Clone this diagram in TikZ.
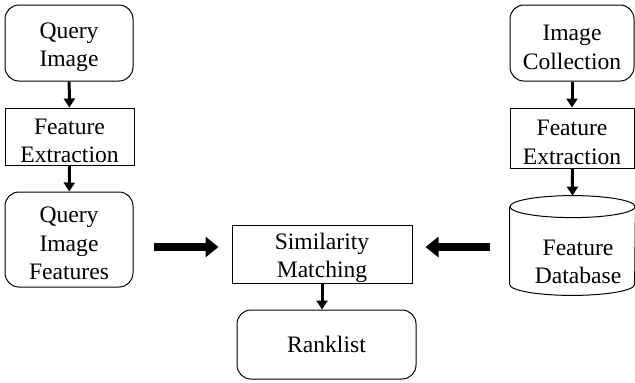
\documentclass[tikz,border=0pt]{standalone}
\usepackage{fontspec}
\setmainfont{Liberation Serif}
\usetikzlibrary{arrows.meta}

\def \thinArrow {1.5pt}
\def \fatArrow {3.6pt}
\def \capRadius {5.5pt}
\def \topStrut {\rule{0pt}{12pt}}

\tikzset{
  every node/.style={font=\fontsize{11.8pt}{14.3pt}\selectfont, align=center},
  roundbox/.style={draw, line width=0.5pt, rounded corners=7pt, inner sep=0pt},
  plainbox/.style={draw, line width=0.5pt, inner sep=0pt},
  flow/.style={line width=\thinArrow, -{Triangle[length=4.5pt, width=5.5pt]}},
  bigflow/.style={line width=\fatArrow, -{Triangle[length=6.5pt, width=10pt]}}
}

\begin{document}
\begin{tikzpicture}[x=0.5pt, y=-0.5pt]
         \useasboundingbox (0, 0) rectangle (635, 382);
         % query side
         \node[roundbox, minimum width=64pt, minimum height=38pt] (qimg) at (69, 43) {\topStrut Query\\Image};
         \node[plainbox, minimum width=64.5pt, minimum height=28.5pt] (qfe) at (69.5, 136.5) {\topStrut Feature\\Extraction};
         \node[roundbox, minimum width=64pt, minimum height=47.5pt] (qfeat) at (69, 239.5) {\topStrut Query\\Image\\Features};
         % collection side
         \node[roundbox, minimum width=62pt, minimum height=38pt] (coll) at (572, 43) {\topStrut Image\\Collection};
         \node[plainbox, minimum width=62pt, minimum height=30pt] (cfe) at (572, 138) {\topStrut Feature\\Extraction};
         \node[minimum width=62.5pt, minimum height=49.5pt, inner sep=0pt] (db) at (572.5, 245.5) {};
         \node (dbtext) at (578, 262) {Feature\\Database};
         \draw[line width=0.5pt] ([yshift=-\capRadius]db.north) ellipse [x radius=31.25pt, y radius=\capRadius];
         \draw[line width=0.5pt] ([yshift=-\capRadius]db.north west) -- ([yshift=\capRadius]db.south west)
               arc [start angle=180, end angle=360, x radius=31.25pt, y radius=\capRadius]
               -- ([yshift=-\capRadius]db.north east);
         % matching
         \node[plainbox, minimum width=90pt, minimum height=29pt] (sim) at (322, 254) {\topStrut Similarity\\Matching};
         \node[roundbox, minimum width=89.5pt, minimum height=34.5pt] (rank) at (326.5, 344.5) {Ranklist};
         % arrows
         \draw[flow] (qimg) -- (qfe);
         \draw[flow] (qfe) -- (qfeat);
         \draw[flow] (coll) -- (cfe);
         \draw[flow] (cfe) -- (db.north);
         \draw[flow] (sim.south) -- (sim.south |- rank.north);
         \draw[bigflow, shorten <=10pt, shorten >=6.5pt] (qfeat.east |- 0, 247) -- (sim.west |- 0, 247);
         \draw[bigflow, shorten <=10pt, shorten >=6.5pt] (db.west |- 0, 247) -- (sim.east |- 0, 247);
      \end{tikzpicture}
\end{document}
